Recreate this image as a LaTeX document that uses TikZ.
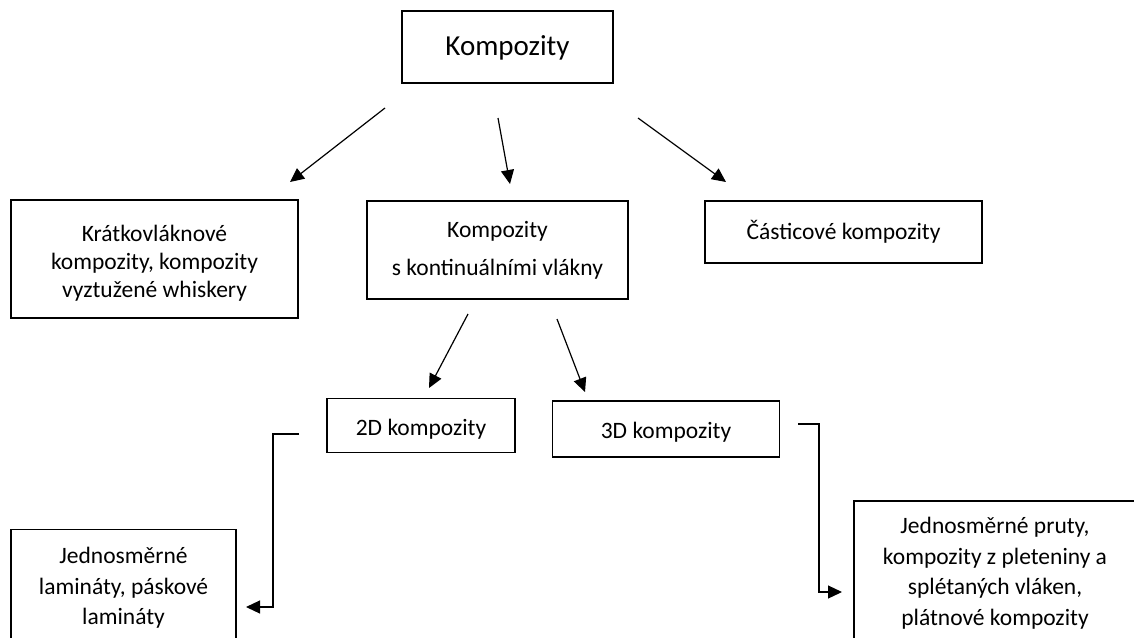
\documentclass[tikz,border=0pt]{standalone}
\usepackage{fontspec}
\setmainfont{Carlito}
\usetikzlibrary{arrows.meta}
\tikzset{
  box/.style={draw=black, line width=1.25pt, inner sep=0pt, align=center, font={\fontsize{23.5}{29.5}\selectfont}},
  arr/.style={line width=1.2pt, -{Triangle[length=14pt,width=13pt]}},
}
\newcommand{\lowerby}[2]{\raisebox{-#1}[\height][\depth]{#2}}
\begin{document}
\begin{tikzpicture}[x=1pt,y=-1pt]
\clip (0,0) rectangle (1134,637);
\fill[white] (0,0) rectangle (1134,637);
% nodes
\node[box, minimum width=211pt, minimum height=72pt, font={\fontsize{29}{34}\selectfont}] (top) at (507.5,47) {\lowerby{1pt}{Kompozity}};
\node[box, minimum width=287pt, minimum height=118pt,
  label={[font={\fontsize{23.5}{28}\selectfont}, align=center, yshift=-4pt]center:Krátkovláknové\\kompozity, kompozity\\vyztužené whiskery}] (krat) at (154.5,259) {};
\node[box, minimum width=261pt, minimum height=98pt, font={\fontsize{23.5}{38}\selectfont}] (mid) at (497.5,250) {Kompozity\\s kontinuálními vlákny};
\node[box, minimum width=277pt, minimum height=62pt] (cast) at (843.5,232) {Částicové kompozity};
\node[box, minimum width=188pt, minimum height=54pt] (d2) at (421,425.5) {\lowerby{4pt}{2D kompozity}};
\node[box, minimum width=227pt, minimum height=56pt] (d3) at (666,429) {\lowerby{3pt}{3D kompozity}};
\node[box, minimum width=225pt, minimum height=117pt, font={\fontsize{23.5}{30.5}\selectfont}] (bl) at (123.5,588) {Jednosměrné\\lamináty, páskové\\lamináty};
\node[box, minimum width=282pt, minimum height=144pt, font={\fontsize{23.5}{30.5}\selectfont}] (br) at (995,573) {Jednosměrné pruty,\\kompozity z pleteniny a\\splétaných vláken,\\plátnové kompozity};
% free connector ends
\coordinate (a1s) at (385,108); \coordinate (a1e) at (290,182);
\coordinate (a2s) at (498,118); \coordinate (a2e) at (510,184);
\coordinate (a3s) at (638,118); \coordinate (a3e) at (726,182);
\coordinate (a4s) at (468,314); \coordinate (a4e) at (429,388);
\coordinate (a5s) at (557,319); \coordinate (a5e) at (585,392);
\coordinate (e1s) at (299,434); \coordinate (e1a) at (273,434); \coordinate (e1b) at (273,607); \coordinate (e1e) at (246,607);
\coordinate (e2s) at (798,424); \coordinate (e2a) at (819,424); \coordinate (e2b) at (819,592); \coordinate (e2e) at (842,592);
% connectors
\draw[arr] (a1s) -- (a1e);
\draw[arr] (a2s) -- (a2e);
\draw[arr] (a3s) -- (a3e);
\draw[arr] (a4s) -- (a4e);
\draw[arr] (a5s) -- (a5e);
\draw[arr] (e1s) -- (e1a) -- (e1b) -- (e1e);
\draw[arr] (e2s) -- (e2a) -- (e2b) -- (e2e);
\end{tikzpicture}
\end{document}
